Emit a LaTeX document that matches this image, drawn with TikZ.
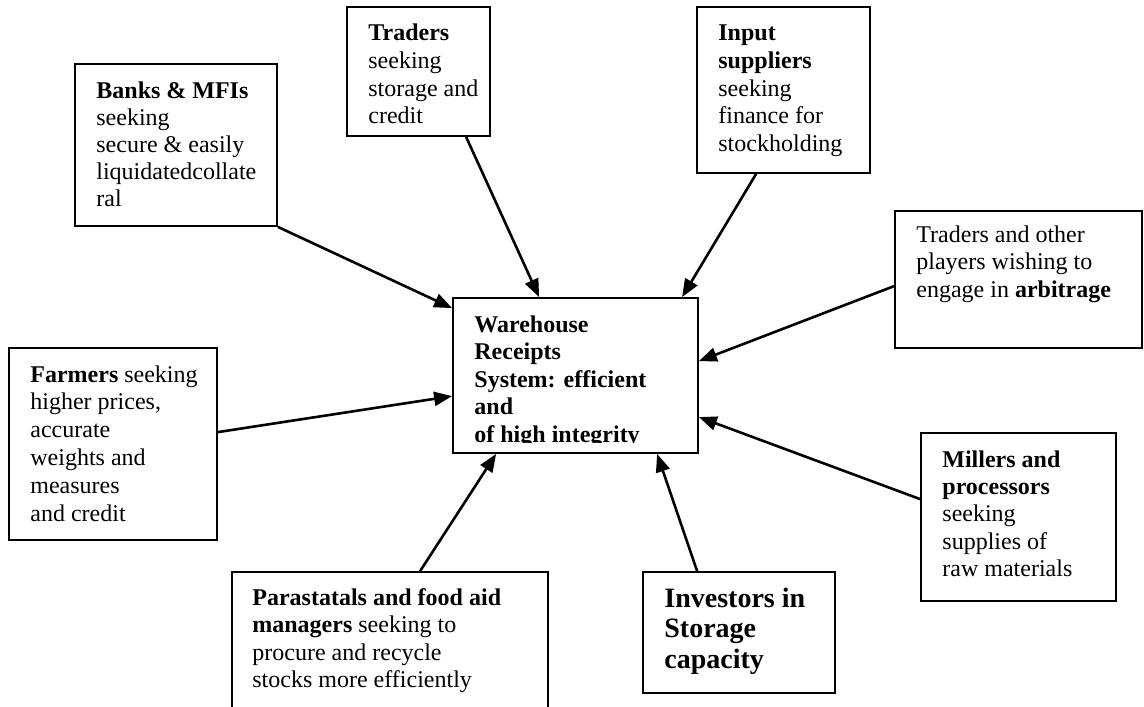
\documentclass[tikz,border=0pt]{standalone}
\usepackage{fontspec}
\setmainfont{Liberation Serif}
\usetikzlibrary{arrows.meta,fit,calc}

% text block: size, baseline skip, lines
\newcommand\blocktext[3]{\parbox[t]{240pt}{\raggedright\fontsize{#1}{#2}\selectfont #3}}

\tikzset{
  panel/.style={draw, line width=0.9pt, inner sep=0pt},
  txt/.style={anchor=base west, inner sep=0pt},
  feed/.style={line width=1.3pt, -{Triangle[length=9pt,width=7pt]}},
}

\begin{document}
\begin{tikzpicture}[x=0.5pt,y=-0.5pt]
\useasboundingbox (0,0) rectangle (1144,706);

% boxes
\node[panel, fit={(453,298) (698,453)}] (wrs) {};
\node[panel, fit={(75,64) (277,226)}] (banks) {};
\node[panel, fit={(347,7) (490,136)}] (traders) {};
\node[panel, fit={(697,7) (870,173)}] (input) {};
\node[panel, fit={(895,211) (1142,348)}] (arb) {};
\node[panel, fit={(921,433) (1116,601)}] (millers) {};
\node[panel, fit={(9,348) (217,540)}] (farmers) {};
\node[panel, fit={(232,572) (548,716)}] (para) {};
\node[panel, fit={(643,572) (835,693)}] (inv) {};

% texts
\begin{scope}
  \clip (453,298) rectangle (698,442);
  \node[txt] (wrs-t) at (474,332) {\blocktext{12}{13.8}{\bfseries Warehouse\\Receipts\\System: efficient\\and\\of high integrity}};
\end{scope}
\node[txt] (banks-t) at (96,98) {\blocktext{12}{13.6}{\textbf{Banks \& MFIs}\\seeking\\secure \& easily\\liquidatedcollate\\ral}};
\node[txt] (traders-t) at (368,41) {\blocktext{12}{13.8}{\textbf{Traders}\\seeking\\storage and\\credit}};
\node[txt] (input-t) at (718,41) {\blocktext{12}{13.8}{\textbf{Input}\\\textbf{suppliers}\\seeking\\finance for\\stockholding}};
\node[txt] (arb-t) at (916,242) {\blocktext{12}{13.9}{Traders and other\\players wishing to\\engage in \textbf{arbitrage}}};
\node[txt] (millers-t) at (942,467) {\blocktext{12}{13.7}{\textbf{Millers and}\\\textbf{processors}\\seeking\\supplies of\\raw materials}};
\node[txt] (farmers-t) at (30,382) {\blocktext{12}{13.9}{\textbf{Farmers} seeking\\higher prices,\\accurate\\weights and\\measures\\and credit}};
\node[txt] (para-t) at (252,605) {\blocktext{12}{13.8}{\textbf{Parastatals and food aid}\\\textbf{managers} seeking to\\procure and recycle\\stocks more efficiently}};
\node[txt] (inv-t) at (664,607) {\blocktext{14}{15.4}{\bfseries Investors in\\Storage\\capacity}};

% connectors into the central box
\draw[feed] (banks.south east) -- ($(wrs.north west)+(0,11)$);
\draw[feed] ($(traders.south west)+(120,0)$) -- ($(wrs.north west)+(87,0)$);
\draw[feed] ($(input.south west)+(60,0)$) -- ($(wrs.north west)+(230,0)$);
\draw[feed] ($(arb.north west)+(0,76)$) -- ($(wrs.north east)+(0,64)$);
\draw[feed] ($(millers.north west)+(0,67)$) -- ($(wrs.north east)+(0,120)$);
\draw[feed] ($(farmers.north east)+(0,85)$) -- ($(wrs.north west)+(0,99)$);
\draw[feed] ($(para.north west)+(189,0)$) -- ($(wrs.south west)+(44,0)$);
\draw[feed] ($(inv.north west)+(55,0)$) -- ($(wrs.south west)+(205,0)$);
\end{tikzpicture}
\end{document}
